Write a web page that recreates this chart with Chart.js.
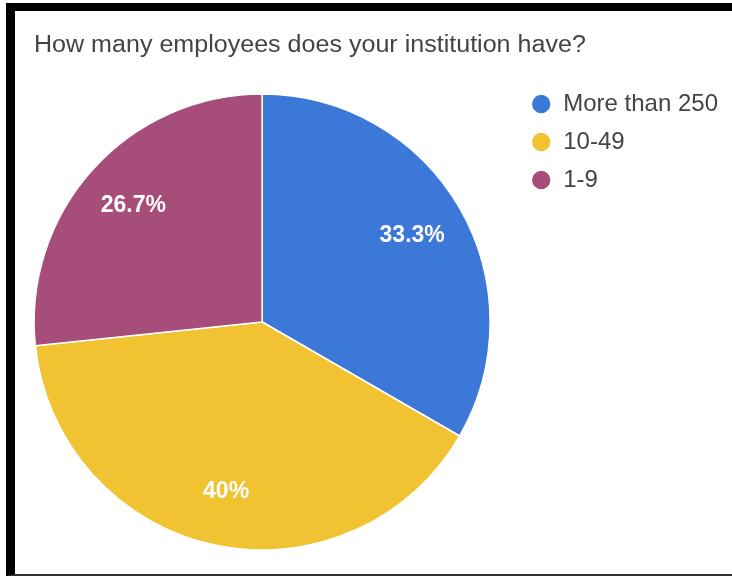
<!DOCTYPE html>
<html>
<head>
<meta charset="utf-8">
<script src="https://cdn.jsdelivr.net/npm/chart.js@4.4.1/dist/chart.umd.min.js"></script>
<style>
  html, body { margin: 0; padding: 0; background: #fff; }
  #frame {
    position: absolute; left: 6px; top: 3px; width: 726px; height: 573px;
    box-sizing: border-box;
    border-top: 8px solid #000; border-left: 9px solid #000; border-bottom: 2px solid #333;
  }
  #title {
    position: absolute; left: 34px; top: 31px; z-index: 2;
    font: 23px "Liberation Sans", Arial, sans-serif; line-height: 26px; color: #444;
    white-space: nowrap;
    transform: scaleX(1.09); transform-origin: 0 50%;
  }
  #wrap { position: absolute; left: 0; top: 0; width: 732px; height: 576px; z-index: 1; }
</style>
</head>
<body>
<div id="frame"></div>
<div id="title">How many employees does your institution have?</div>
<div id="wrap"><canvas id="employeesChart"></canvas></div>
<script>
const categories = ['More than 250', '10-49', '1-9'];
const responses = [5, 6, 4];
const sliceColors = ['#3c78d8', '#f1c232', '#a64d79'];

// percentage text inside each slice
const sliceLabels = {
    id: 'sliceLabels',
    afterDatasetsDraw(chart) {
        const ctx = chart.ctx;
        const meta = chart.getDatasetMeta(0);
        const total = responses.reduce((a, b) => a + b, 0);
        ctx.save();
        ctx.fillStyle = '#ffffff';
        ctx.font = 'bold 23px "Liberation Sans", Arial, sans-serif';
        ctx.textAlign = 'center';
        ctx.textBaseline = 'middle';
        meta.data.forEach((arc, i) => {
            const p = arc.getProps(['x', 'y', 'startAngle', 'endAngle', 'outerRadius'], true);
            const mid = (p.startAngle + p.endAngle) / 2;
            const r = p.outerRadius * 0.76;
            const pct = Math.round(responses[i] / total * 1000) / 10;
            ctx.fillText(pct + '%', p.x + Math.cos(mid) * r, p.y + Math.sin(mid) * r);
        });
        ctx.restore();
    }
};

const ctx = document.getElementById('employeesChart').getContext('2d');

new Chart(ctx, {
    type: 'pie',
    data: {
        labels: categories,
        datasets: [
            {
                data: responses,
                backgroundColor: sliceColors,
                borderColor: '#ffffff',
                borderWidth: 1.5,
                radius: 228
            }
        ]
    },
    options: {
        responsive: true,
        maintainAspectRatio: false,
        animation: false,
        layout: {
            padding: { left: 7, top: 78, right: 4, bottom: 10 }
        },
        plugins: {
            legend: {
                display: true,
                position: 'right',
                align: 'start',
                labels: {
                    color: '#444444',
                    font: { family: '"Liberation Sans", Arial, sans-serif', size: 24 },
                    usePointStyle: true,
                    pointStyle: 'circle',
                    boxWidth: 20,
                    boxHeight: 14,
                    padding: 14
                }
            },
            tooltip: { enabled: false }
        }
    },
    plugins: [sliceLabels]
});
</script>
</body>
</html>
